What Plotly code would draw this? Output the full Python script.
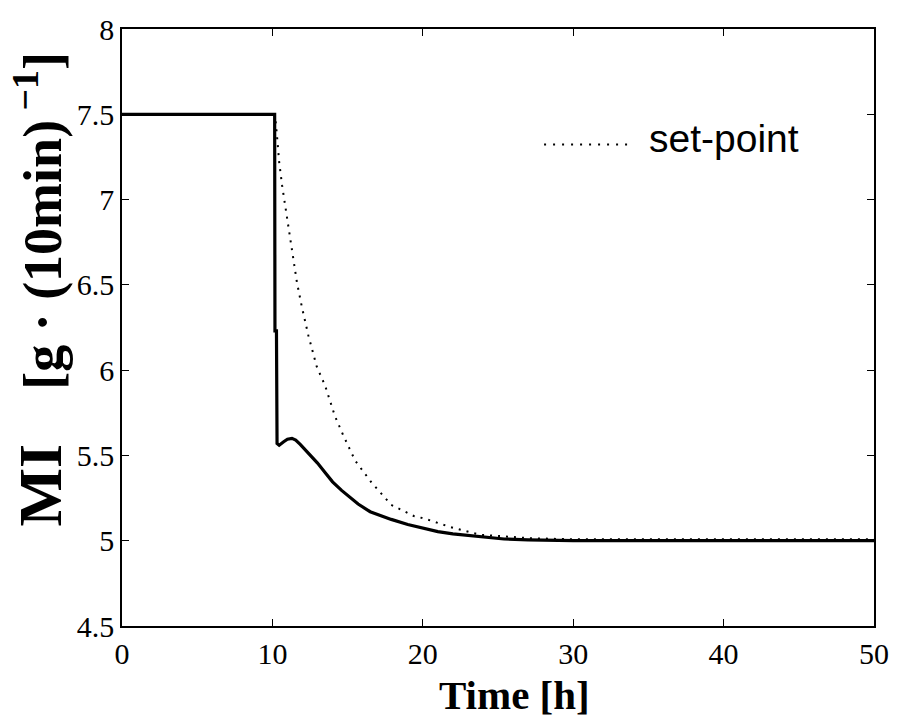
import plotly.graph_objects as go

# ---- data ----
mi_t = [0, 10.15, 10.17, 10.27, 10.31, 10.45, 10.75, 11.0, 11.3, 11.55, 11.85, 12.4,
        13.0, 13.5, 14.0, 14.6, 15.2, 15.7, 16.5, 17.2, 17.9, 19.0, 20.1, 21.0,
        22.0, 23.0, 24.0, 25.4, 27.0, 30.0, 35.0, 40.0, 45.0, 50.0]
mi_v = [7.5, 7.5, 6.23, 6.23, 5.57, 5.56, 5.58, 5.595, 5.60, 5.59, 5.565, 5.515,
        5.455, 5.40, 5.345, 5.295, 5.25, 5.215, 5.17, 5.145, 5.125, 5.095, 5.07, 5.053,
        5.04, 5.03, 5.02, 5.01, 5.005, 5.0, 5.0, 5.0, 5.0, 5.0]

sp_t = [0, 10.17, 10.3, 10.45, 10.65, 11.0, 11.3, 11.63, 11.96, 12.4, 12.95, 13.5,
        14.16, 14.7, 15.5, 16.6, 17.9, 19.4, 20.1, 21.2, 21.85, 23.8, 27.1, 30.0,
        35.0, 40.0, 45.0, 50.0]
sp_v = [7.5, 7.5, 7.38, 7.22, 7.08, 6.87, 6.71, 6.515, 6.37, 6.20, 6.02, 5.91,
        5.73, 5.62, 5.47, 5.34, 5.21, 5.145, 5.13, 5.10, 5.08, 5.035, 5.015, 5.008,
        5.008, 5.008, 5.008, 5.008]

x_ticks = [0, 10, 20, 30, 40, 50]
y_ticks = [4.5, 5, 5.5, 6, 6.5, 7, 7.5, 8]
y_ticktext = ["4.5", "5", "5.5", "6", "6.5", "7", "7.5", "8"]
legend_label = "set-point"

fig = go.Figure()
fig.add_trace(go.Scatter(x=sp_t, y=sp_v, mode="lines", name=legend_label,
                         line=dict(color="black", width=2, dash="2px,6px"),
                         showlegend=False))
fig.add_trace(go.Scatter(x=mi_t, y=mi_v, mode="lines", name="MI",
                         line=dict(color="black", width=3.2),
                         showlegend=False))

serif = "Liberation Serif, Times New Roman, serif"
axis_common = dict(showline=True, linecolor="black", linewidth=1.5, mirror="ticks",
                   ticks="inside", ticklen=7, tickwidth=1.2, tickcolor="black",
                   showgrid=False, zeroline=False,
                   tickfont=dict(family=serif, size=30, color="black"))

fig.update_xaxes(range=[0, 50], tickvals=x_ticks, ticktext=[str(v) for v in x_ticks],
                 ticklabelstandoff=0, **axis_common)
fig.update_yaxes(range=[4.5, 8], tickvals=y_ticks, ticktext=y_ticktext,
                 ticklabelstandoff=0, **axis_common)

# legend (drawn manually to match the long dotted sample)
fig.add_shape(type="line", xref="paper", yref="paper",
              x0=(548 - 122) / 759, x1=(636 - 122) / 759,
              y0=(626.5 - 139) / 604.5, y1=(626.5 - 139) / 604.5,
              line=dict(color="black", width=2, dash="2px,7px"))
fig.add_annotation(text=legend_label, xref="paper", yref="paper",
                   x=(652 - 122) / 759, y=(626.5 - 133) / 604.5,
                   xanchor="left", yanchor="middle", showarrow=False,
                   font=dict(family="Liberation Sans, Arial, sans-serif", size=39, color="black"))

# axis titles
fig.add_annotation(text="<b>Time</b> <b>[h]</b>", xref="paper", yref="paper",
                   x=(518 - 122) / 759, y=(626.5 - 696) / 604.5,
                   xanchor="center", yanchor="middle", showarrow=False,
                   font=dict(family=serif, size=41, color="black"))
fig.add_annotation(text="<b><span style='font-size:62px'>MI</span>    [g · (10min)<sup> −1</sup>]</b>",
                   xref="paper", yref="paper",
                   x=(38 - 122) / 759, y=(626.5 - 285) / 604.5,
                   xanchor="center", yanchor="middle", showarrow=False, textangle=-90,
                   font=dict(family=serif, size=54, color="black"))

fig.update_layout(width=901, height=720, plot_bgcolor="white", paper_bgcolor="white",
                  margin=dict(l=122, r=20, t=22, b=93.5), showlegend=False)

fig.write_html("out.html")
